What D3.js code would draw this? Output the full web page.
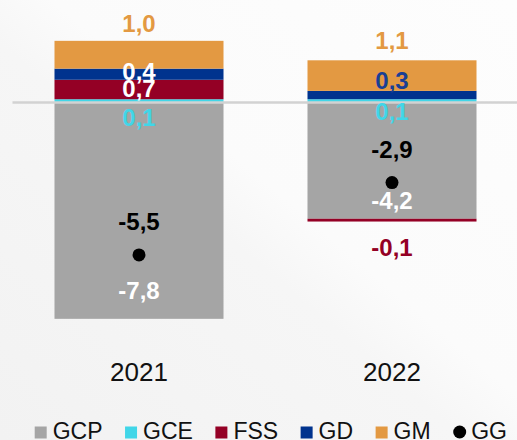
<!DOCTYPE html>
<html>
<head>
<meta charset="utf-8">
<script src="https://cdn.jsdelivr.net/npm/d3@7"></script>
<style>
  html, body { margin: 0; padding: 0; background: #f7f7f7; }
  svg { display: block; font-family: "Liberation Sans", Arial, sans-serif; }
</style>
</head>
<body>
<div id="chart"></div>
<script>
// data
const categories = ['2021', '2022'];
const GCP = [-7.8, -4.2];
const GCE = [0.1, 0.1];
const FSS = [0.7, -0.1];
const GD = [0.4, 0.3];
const GM = [1.0, 1.1];
const GG = [-5.5, -2.9];

const seriesKeys = ['GCP', 'GCE', 'FSS', 'GD', 'GM'];
const seriesValues = { GCP, GCE, FSS, GD, GM };
const colors = {
  GCP: '#a5a5a5',
  GCE: '#41d6e8',
  FSS: '#940025',
  GD: '#00338e',
  GM: '#e39942',
  GG: '#000000'
};

// label placement (pixels), kept apart from the data
// anchor: 'top' = above segment top, 'mid' = centred in segment, 'zero' = below zero line,
// 'bottom' = from segment bottom
const labelLayout = [
  { key: 'GM', i: 0, anchor: 'top', dy: -9, fill: colors.GM },
  { key: 'GD', i: 0, anchor: 'mid', dy: 6, fill: '#fff' },
  { key: 'FSS', i: 0, anchor: 'mid', dy: 8, fill: '#fff' },
  { key: 'GCE', i: 0, anchor: 'zero', dy: 24, fill: colors.GCE },
  { key: 'GCP', i: 0, anchor: 'bottom', dy: -20, fill: '#fff' },
  { key: 'GM', i: 1, anchor: 'top', dy: -11, fill: colors.GM },
  { key: 'GD', i: 1, anchor: 'top', dy: -2, fill: '#1a3f94' },
  { key: 'GCE', i: 1, anchor: 'zero', dy: 18, fill: colors.GCE },
  { key: 'GCP', i: 1, anchor: 'bottom', dy: -10, fill: '#fff' },
  { key: 'FSS', i: 1, anchor: 'bottom', dy: 34, fill: colors.FSS }
];

const width = 517, height = 440;
const fmt = v => d3.format('.1f')(v).replace('\u2212', '-').replace('.', ',');

const svg = d3.select('#chart').append('svg')
  .attr('width', width)
  .attr('height', height);

// background
const defs = svg.append('defs');
const grad = defs.append('linearGradient')
  .attr('id', 'bg')
  .attr('x1', '0%').attr('y1', '100%')
  .attr('x2', '100%').attr('y2', '0%');
grad.append('stop').attr('offset', '0%').attr('stop-color', '#f2f2f2');
grad.append('stop').attr('offset', '45%').attr('stop-color', '#f6f6f6');
grad.append('stop').attr('offset', '55%').attr('stop-color', '#fbfbfb');
grad.append('stop').attr('offset', '100%').attr('stop-color', '#fdfdfd');
svg.append('rect').attr('width', width).attr('height', height).attr('fill', 'url(#bg)');

const x = d3.scaleBand()
  .domain(categories)
  .range([12.5, 518.5])
  .paddingInner(0.332)
  .paddingOuter(0.166);

const y = d3.scaleLinear()
  .domain([2.5, -8])
  .range([32.5, 324.4]);

const table = categories.map((c, i) => {
  const row = { category: c };
  seriesKeys.forEach(k => { row[k] = seriesValues[k][i]; });
  return row;
});

const stacked = d3.stack()
  .keys(seriesKeys)
  .offset(d3.stackOffsetDiverging)(table);

const g = svg.append('g');

g.selectAll('.series')
  .data(stacked)
  .enter().append('g')
  .attr('class', 'series')
  .attr('fill', d => colors[d.key])
  .selectAll('rect')
  .data(d => d)
  .enter().append('rect')
  .attr('x', d => x(d.data.category))
  .attr('y', d => y(Math.max(d[0], d[1])))
  .attr('width', x.bandwidth())
  .attr('height', d => Math.abs(y(d[0]) - y(d[1])));

// zero line
svg.append('line')
  .attr('x1', x.range()[0])
  .attr('x2', width)
  .attr('y1', y(0) + 0.5)
  .attr('y2', y(0) + 0.5)
  .attr('stroke', '#d2d2d2')
  .attr('stroke-width', 2.5);

// segment labels
const byKey = {};
stacked.forEach(s => { byKey[s.key] = s; });

svg.append('g')
  .selectAll('text')
  .data(labelLayout)
  .enter().append('text')
  .attr('x', d => x(categories[d.i]) + x.bandwidth() / 2)
  .attr('y', d => {
    const seg = byKey[d.key][d.i];
    const top = y(Math.max(seg[0], seg[1]));
    const bottom = y(Math.min(seg[0], seg[1]));
    let base;
    if (d.anchor === 'top') base = top;
    else if (d.anchor === 'mid') base = (top + bottom) / 2;
    else if (d.anchor === 'zero') base = y(0);
    else base = bottom;
    return base + d.dy;
  })
  .attr('text-anchor', 'middle')
  .attr('font-size', '24px')
  .attr('font-weight', 'bold')
  .attr('fill', d => d.fill)
  .text(d => fmt(seriesValues[d.key][d.i]));

// GG points
svg.append('g')
  .selectAll('circle')
  .data(GG)
  .enter().append('circle')
  .attr('cx', (d, i) => x(categories[i]) + x.bandwidth() / 2)
  .attr('cy', d => y(d))
  .attr('r', 6.5)
  .attr('fill', colors.GG);

svg.append('g')
  .selectAll('text')
  .data(GG)
  .enter().append('text')
  .attr('x', (d, i) => x(categories[i]) + x.bandwidth() / 2)
  .attr('y', d => y(d) - 25)
  .attr('text-anchor', 'middle')
  .attr('font-size', '24px')
  .attr('font-weight', 'bold')
  .attr('fill', '#000')
  .text(d => fmt(d));

// category axis
const xAxis = svg.append('g')
  .attr('transform', 'translate(0,381)')
  .call(d3.axisBottom(x).tickSize(0).tickPadding(0));
xAxis.select('.domain').remove();
xAxis.selectAll('text')
  .attr('dy', 0)
  .attr('y', 0)
  .style('font-size', '26px')
  .style('font-family', '"Liberation Sans", Arial, sans-serif')
  .style('fill', '#111');

// legend
const legendItems = ['GCP', 'GCE', 'FSS', 'GD', 'GM', 'GG'];
const legend = svg.append('g').attr('transform', 'translate(34.7,438.5)');
let cursor = 0;
legendItems.forEach(k => {
  const item = legend.append('g').attr('transform', `translate(${cursor},0)`);
  if (k === 'GG') {
    item.append('circle').attr('cx', 6.5).attr('cy', -6.5).attr('r', 6.5).attr('fill', colors[k]);
  } else {
    item.append('rect').attr('x', 0).attr('y', -12).attr('width', 12).attr('height', 12).attr('fill', colors[k]);
  }
  const t = item.append('text')
    .attr('x', 18)
    .attr('y', 0)
    .attr('font-size', '23px')
    .attr('fill', '#111')
    .text(k);
  cursor += 18 + t.node().getComputedTextLength() + 22.5;
});
</script>
</body>
</html>
